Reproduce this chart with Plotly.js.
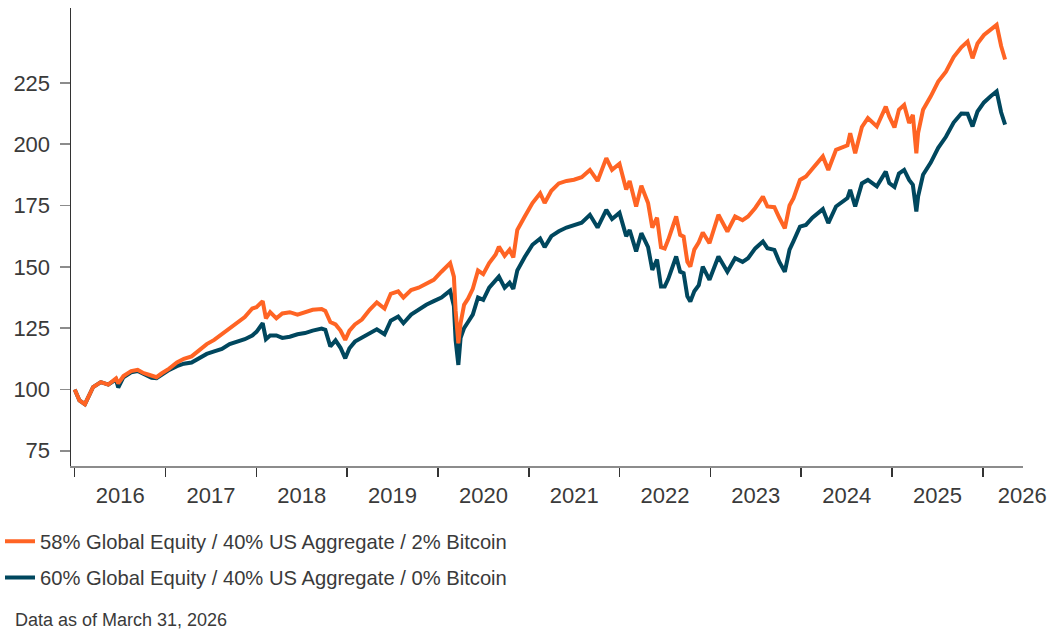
<!DOCTYPE html>
<html>
<head>
<meta charset="utf-8">
<script src="https://cdn.plot.ly/plotly-3.0.1.min.js"></script>
<style>
  html, body { margin: 0; padding: 0; background: #ffffff; }
  #chart { width: 1054px; height: 630px; }
</style>
</head>
<body>
<div id="chart"></div>
<script>
// Dates of the readings
const dates = [
  '2016-01-01','2016-01-20','2016-02-11','2016-03-01','2016-03-15','2016-04-15','2016-05-15','2016-06-15','2016-06-24','2016-07-15',
  '2016-08-15','2016-09-10','2016-10-01','2016-10-25','2016-11-05','2016-11-25','2016-12-15',
  '2017-01-15','2017-02-15','2017-03-15','2017-04-15','2017-05-15','2017-06-15','2017-07-15','2017-08-15','2017-09-15','2017-10-15','2017-11-15','2017-12-15',
  '2018-01-01','2018-01-26','2018-02-08','2018-02-25','2018-03-22','2018-04-15','2018-05-15','2018-06-15','2018-07-15','2018-08-15','2018-09-20','2018-10-05','2018-10-25','2018-11-15','2018-12-05','2018-12-24',
  '2019-01-10','2019-02-01','2019-03-01','2019-04-01','2019-04-30','2019-05-31','2019-06-25','2019-07-25','2019-08-15','2019-09-15','2019-10-15','2019-11-15','2019-12-15',
  '2020-01-15','2020-02-19','2020-03-05','2020-03-12','2020-03-23','2020-04-01','2020-04-15','2020-05-01','2020-05-20','2020-06-10','2020-07-01','2020-07-25','2020-08-20','2020-09-02','2020-09-25','2020-10-15','2020-10-30','2020-11-15','2020-12-15',
  '2021-01-15','2021-02-15','2021-03-05','2021-04-01','2021-05-01','2021-06-01','2021-07-01','2021-08-01','2021-09-03','2021-10-04','2021-11-08','2021-12-01','2021-12-31',
  '2022-01-27','2022-02-10','2022-03-08','2022-03-29','2022-04-25','2022-05-12','2022-05-31','2022-06-16','2022-07-01','2022-07-15','2022-08-16','2022-09-01','2022-09-15','2022-09-30','2022-10-12','2022-10-28','2022-11-15','2022-12-01','2022-12-28',
  '2023-02-02','2023-03-10','2023-04-10','2023-05-10','2023-06-01','2023-06-30','2023-07-31','2023-08-18','2023-09-15','2023-10-05','2023-10-27','2023-11-15','2023-12-01','2023-12-27',
  '2024-01-20','2024-02-15','2024-03-28','2024-04-19','2024-05-20','2024-07-05','2024-07-16','2024-08-05','2024-09-01','2024-09-25','2024-10-31','2024-12-06','2024-12-20',
  '2025-01-10','2025-01-28','2025-02-18','2025-03-10','2025-03-25','2025-04-08','2025-04-15','2025-05-05','2025-06-05','2025-07-05','2025-08-05','2025-09-05','2025-10-06','2025-10-31','2025-11-20','2025-12-10',
  '2026-01-05','2026-02-01','2026-02-25','2026-03-15','2026-03-31'
];

// 58% Global Equity / 40% US Aggregate / 2% Bitcoin
const withBitcoin = [
  100,95.5,94,98,101,103,102,104.5,102.5,105.5,
  107.5,108,106.8,106,105.5,105,106.5,
  108.5,111,112.5,113.5,116,118.5,120.2,122.5,125,127,129.5,133,
  133.5,136,129,131.5,129,131,131.5,130.5,131.5,132.5,132.8,132,127.5,126.5,124,120.2,
  124,126.5,128.5,132.5,135.5,133,139,140,137.5,140.5,141.5,143.3,144.7,
  148,151.5,146,132,118.8,127,134.5,137,141,148.5,147,151.5,155,158.2,154.5,157,153.8,165,170.5,
  176,180,176,181,184,185,185.5,186.5,189.5,185,194.3,189.5,192,
  181.5,185,174.6,183,176,166,170,158,157.5,161,170.5,163,162.3,152,150.1,157,160,164,159.6,
  171.2,164.4,170.5,169,170.5,174,178.6,174.6,174.3,170,165.7,175,178,185.4,
  186.8,190,195,189.5,197.7,199.5,204.5,196.3,207,210.6,207.2,215.3,211.3,
  206.8,214,216,208.6,211.9,196.3,204.5,214,219.5,225.5,229.5,235.5,239.5,241.8,235,241,
  244.5,246.5,248.6,240,234.5
];

// 60% Global Equity / 40% US Aggregate / 0% Bitcoin
const withoutBitcoin = [
  100,95.5,94,98,101,103,102,104,100.8,105,
  107,107.5,106.5,105.5,104.8,104.6,106,
  108,109.5,110.5,111,112.5,114.5,115.5,116.5,118.5,119.5,120.5,122,
  123.5,127,120.5,122,122,121,121.5,122.5,123,124,124.8,124.3,117.5,120,117,112.7,
  116.8,119.5,121,122.5,124.5,122.5,128,129.7,127,130.5,132.5,134.5,136,
  137.5,140.3,134,120,110,121,125,127.5,130.5,137.5,136.5,141.5,144.5,146,141.5,143.5,141,148.5,154,
  159,161.5,158,162.5,164.5,166,167,168,171.2,166,173.2,169.5,172,
  162.5,165,156.3,163.7,158,148.7,153,142,142,145,154.2,148,147.4,138,135.8,140,142.5,150.1,144.7,
  154.2,148,153.5,152,153.5,157.5,160.3,157.6,156.9,152,148,157,160.5,166.4,
  167.1,170,173.5,167.8,174.6,178,181.4,174.6,184,185.4,182.8,188.8,184.1,
  182.5,188,189.5,185.4,183.4,172.5,178.6,187.5,192.5,198.5,203,208.8,212.5,212.4,207.2,213.3,
  217,219.5,221.5,213,208
];

const seriesNames = [
  '58% Global Equity / 40% US Aggregate / 2% Bitcoin',
  '60% Global Equity / 40% US Aggregate / 0% Bitcoin'
];
const yTicks = [75, 100, 125, 150, 175, 200, 225];
const yearStarts = ['2016-01-01','2017-01-01','2018-01-01','2019-01-01','2020-01-01','2021-01-01','2022-01-01','2023-01-01','2024-01-01','2025-01-01','2026-01-01'];
const yearLabelPos = ['2016-07-02','2017-07-02','2018-07-02','2019-07-02','2020-07-02','2021-07-02','2022-07-02','2023-07-02','2024-07-02','2025-07-02','2026-06-08'];
const yearLabels = ['2016','2017','2018','2019','2020','2021','2022','2023','2024','2025','2026'];
const footnote = 'Data as of March 31, 2026';

const FONT = '"Liberation Sans", Arial, Helvetica, sans-serif';
const TXT = '#3a3a3a';
const xRange = ['2015-12-17', '2026-06-11'];

const traces = [
  {
    x: dates, y: withoutBitcoin, type: 'scatter', mode: 'lines',
    name: seriesNames[1], line: {color: '#00475E', width: 4},
    legendrank: 2, legendgroup: 'b'
  },
  {
    x: dates, y: withBitcoin, type: 'scatter', mode: 'lines',
    name: seriesNames[0], line: {color: '#FF6424', width: 4},
    legendrank: 1, legendgroup: 'a'
  },
  {
    x: [], y: [], xaxis: 'x2', type: 'scatter', mode: 'lines',
    showlegend: false, hoverinfo: 'skip'
  }
];

const layout = {
  width: 1054, height: 630,
  margin: {l: 71, r: 31, t: 8, b: 164, autoexpand: false},
  paper_bgcolor: '#ffffff', plot_bgcolor: '#ffffff',
  font: {family: FONT, color: TXT, size: 20},
  showlegend: true,
  legend: {
    xref: 'container', yref: 'container', x: 0.0, y: 0.172,
    xanchor: 'left', yanchor: 'top',
    orientation: 'v', traceorder: 'grouped',
    font: {family: FONT, size: 20.2, color: TXT},
    bgcolor: 'rgba(0,0,0,0)', borderwidth: 0, tracegroupgap: 7,
    itemwidth: 30
  },
  xaxis: {
    type: 'date', range: xRange,
    tickmode: 'array', tickvals: yearStarts, showticklabels: false,
    ticks: 'outside', ticklen: 9, tickwidth: 1.5, tickcolor: '#333333',
    showline: true, linecolor: '#8c8c8c', linewidth: 1.5,
    showgrid: false, zeroline: false
  },
  xaxis2: {
    type: 'date', range: xRange, overlaying: 'x', anchor: 'y', side: 'bottom',
    tickmode: 'array', tickvals: yearLabelPos, ticktext: yearLabels,
    ticks: '', showline: false, showgrid: false, zeroline: false,
    tickangle: 0, ticklabelstandoff: 14,
    tickfont: {family: FONT, size: 22, color: TXT}
  },
  yaxis: {
    range: [68.8, 255.5],
    tickmode: 'array', tickvals: yTicks,
    ticks: 'outside', ticklen: 10, tickwidth: 1.5, tickcolor: '#8c8c8c',
    showline: true, linecolor: '#333333', linewidth: 1.5,
    showgrid: false, zeroline: false, ticklabelstandoff: 5,
    tickfont: {family: FONT, size: 22, color: TXT}
  },
  annotations: [{
    text: footnote, xref: 'paper', yref: 'paper',
    x: -0.061, y: -0.336, xanchor: 'left', yanchor: 'middle',
    showarrow: false, font: {family: FONT, size: 18, color: TXT}
  }]
};

Plotly.newPlot('chart', traces, layout, {staticPlot: true, displayModeBar: false});
</script>
</body>
</html>
